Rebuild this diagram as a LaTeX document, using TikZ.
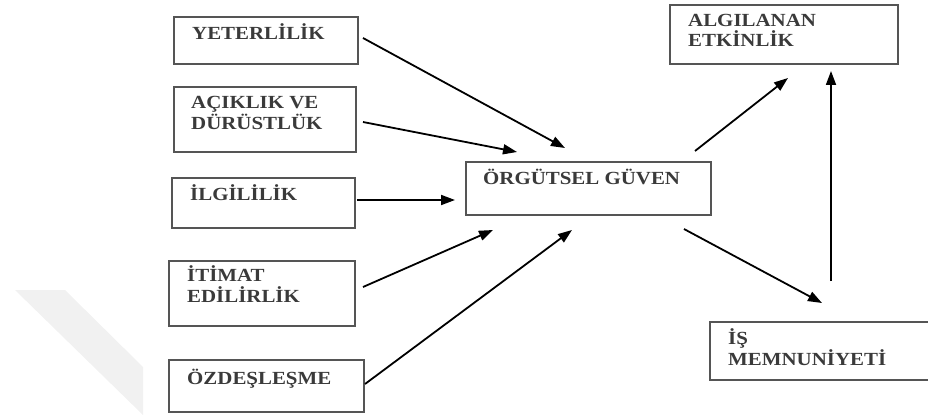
\documentclass[tikz,border=0pt]{standalone}
\usepackage{fontspec}
\setmainfont{Liberation Serif}[FakeStretch=1.13]
\usetikzlibrary{arrows.meta,calc}
\definecolor{boxgray}{HTML}{555555}
\definecolor{txtgray}{HTML}{3A3A3A}
\definecolor{wm}{HTML}{F1F1F1}
\tikzset{
  box/.style={draw=boxgray, line width=1.8pt, anchor=north west, inner sep=0pt},
  lbl/.style={anchor=base west, inner sep=0pt, align=left, text=txtgray,
    font=\fontsize{18.5}{20.5}\selectfont\bfseries},
  arr/.style={-{Triangle[length=14pt,width=10pt]}, line width=1.8pt, black}
}
\begin{document}
\begin{tikzpicture}[x=1pt,y=-1pt]
\useasboundingbox (0,0) rectangle (928,417);
% watermark band
\fill[wm] (15,290) -- (65,290) -- (143,367) -- (143,415) -- cycle;
% boxes
\node[box, minimum width=184pt, minimum height=47pt] (yet) at (173,16) {};
\node[box, minimum width=182pt, minimum height=65pt] (aci) at (173,86) {};
\node[box, minimum width=183pt, minimum height=50pt] (ilg) at (171,177) {};
\node[box, minimum width=186pt, minimum height=65pt] (iti) at (168,260) {};
\node[box, minimum width=195pt, minimum height=52pt] (ozd) at (168,359) {};
\node[box, minimum width=245pt, minimum height=53pt] (org) at (465,161) {};
\node[box, minimum width=228pt, minimum height=59pt] (alg) at (669,4) {};
\node[box, minimum width=225pt, minimum height=58pt] (is) at (709,321) {};
% labels (base anchor = baseline of last line)
\node[lbl] (tyet) at ($(yet.north west)+(19,24)$) {YETERLİLİK};
\node[lbl] (taci) at ($(aci.north west)+(18,43)$) {AÇIKLIK VE\\DÜRÜSTLÜK};
\node[lbl] (tilg) at ($(ilg.north west)+(19,23)$) {İLGİLİLİK};
\node[lbl] (titi) at ($(iti.north west)+(19,42)$) {İTİMAT\\EDİLİRLİK};
\node[lbl] (tozd) at ($(ozd.north west)+(19,25)$) {ÖZDEŞLEŞME};
\node[lbl] (torg) at ($(org.north west)+(18,23)$) {ÖRGÜTSEL GÜVEN};
\node[lbl] (talg) at ($(alg.north west)+(19,43)$) {ALGILANAN\\ETKİNLİK};
\node[lbl] (tis) at ($(is.north west)+(19,44)$) {İŞ\\MEMNUNİYETİ};
% connector end points
\coordinate (a1s) at (363,38);  \coordinate (a1e) at (565,148);
\coordinate (a2s) at (363,122); \coordinate (a2e) at (517,152);
\coordinate (a3s) at (357,200); \coordinate (a3e) at (455,200);
\coordinate (a4s) at (363,287); \coordinate (a4e) at (493,230);
\coordinate (a5s) at (365,384); \coordinate (a5e) at (572,230);
\coordinate (a6s) at (695,151); \coordinate (a6e) at (788,78);
\coordinate (a7s) at (684,229); \coordinate (a7e) at (822,303);
\coordinate (a8s) at (831,281); \coordinate (a8e) at (831,71);
\draw[arr] (a1s) -- (a1e);
\draw[arr] (a2s) -- (a2e);
\draw[arr] (a3s) -- (a3e);
\draw[arr] (a4s) -- (a4e);
\draw[arr] (a5s) -- (a5e);
\draw[arr] (a6s) -- (a6e);
\draw[arr] (a7s) -- (a7e);
\draw[arr] (a8s) -- (a8e);
\end{tikzpicture}
\end{document}
